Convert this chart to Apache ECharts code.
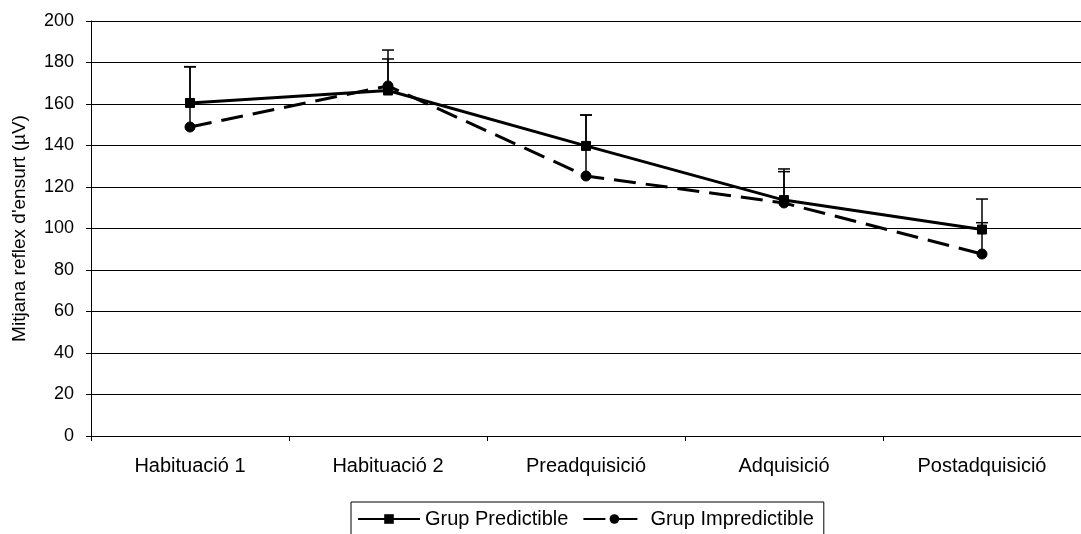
<!DOCTYPE html>
<html>
<head>
<meta charset="utf-8">
<script src="https://cdn.jsdelivr.net/npm/echarts@6/dist/echarts.min.js"></script>
<style>
  html, body { margin: 0; padding: 0; background: #fff; }
  #chart { width: 1081px; height: 534px; }
</style>
</head>
<body>
<div id="chart"></div>
<script>
// Mean startle reflex amplitude per phase, two groups
const categories = ['Habituació 1', 'Habituació 2', 'Preadquisició', 'Adquisició', 'Postadquisició'];
const predictible = [160.5, 166.5, 139.8, 113.7, 99.5];
const impredictible = [148.9, 168.7, 125.3, 112.3, 87.7];
// Upper error (µV above the mean)
const predictibleErr = [17.5, 19.5, 14.9, 15.0, 14.7];
const impredictibleErr = [29.0, 13.0, 29.4, 15.1, 15.1];
const yTicks = [0, 20, 40, 60, 80, 100, 120, 140, 160, 180, 200];

const FONT = 'Liberation Sans, Arial, sans-serif';

function errData(vals, errs) {
  return vals.map((v, i) => [i, v, v + errs[i]]);
}

function renderErr(params, api) {
  const x = api.value(0);
  const lo = api.coord([x, api.value(1)]);
  const hi = api.coord([x, api.value(2)]);
  const half = 6;
  const style = { stroke: '#000', lineWidth: 1.5, fill: null };
  return {
    type: 'group',
    children: [
      { type: 'line', shape: { x1: lo[0], y1: lo[1], x2: hi[0], y2: hi[1] }, style: style },
      { type: 'line', shape: { x1: hi[0] - half, y1: hi[1], x2: hi[0] + half, y2: hi[1] }, style: style }
    ]
  };
}

const chart = echarts.init(document.getElementById('chart'), null, { renderer: 'canvas' });
chart.setOption({
  animation: false,
  backgroundColor: '#fff',
  textStyle: { fontFamily: FONT },
  grid: { left: 91, top: 21, width: 997, height: 415, containLabel: false },
  legend: {
    left: 351,
    top: 502,
    orient: 'horizontal',
    data: ['Grup Predictible', 'Grup Impredictible'],
    itemWidth: 62,
    itemHeight: 12,
    itemGap: 14,
    padding: [7, 10, 10, 6],
    borderColor: '#000',
    borderWidth: 1,
    textStyle: { fontFamily: FONT, fontSize: 20, color: '#000', padding: [0, 0, 0, 0] }
  },
  xAxis: {
    type: 'category',
    data: categories,
    boundaryGap: true,
    axisLine: { lineStyle: { color: '#000', width: 1 } },
    axisTick: { show: true, length: 5, inside: false, alignWithLabel: false, lineStyle: { color: '#000' } },
    axisLabel: { color: '#000', fontFamily: FONT, fontSize: 20, margin: 20, interval: 0 },
    splitLine: { show: false }
  },
  yAxis: {
    type: 'value',
    min: yTicks[0],
    max: yTicks[yTicks.length - 1],
    interval: yTicks[1] - yTicks[0],
    name: "Mitjana reflex d'ensurt (µV)",
    nameLocation: 'middle',
    nameRotate: 90,
    nameGap: 62,
    nameTextStyle: { color: '#000', fontFamily: FONT, fontSize: 19 },
    axisLine: { show: true, lineStyle: { color: '#000', width: 1 } },
    axisTick: { show: true, length: 5, lineStyle: { color: '#000' } },
    axisLabel: { color: '#000', fontFamily: FONT, fontSize: 18, margin: 17 },
    splitLine: { show: true, lineStyle: { color: '#000', width: 1 } }
  },
  series: [
    {
      name: 'errPred',
      type: 'custom',
      renderItem: renderErr,
      data: errData(predictible, predictibleErr),
      encode: { x: 0, y: [1, 2] },
      z: 1,
      silent: true
    },
    {
      name: 'errImpred',
      type: 'custom',
      renderItem: renderErr,
      data: errData(impredictible, impredictibleErr),
      encode: { x: 0, y: [1, 2] },
      z: 1,
      silent: true
    },
    {
      name: 'Grup Predictible',
      type: 'line',
      data: predictible,
      symbol: 'rect',
      symbolSize: 9,
      lineStyle: { color: '#000', width: 3, type: 'solid' },
      itemStyle: { color: '#000', borderColor: '#000' },
      z: 3
    },
    {
      name: 'Grup Impredictible',
      type: 'line',
      data: impredictible,
      symbol: 'circle',
      symbolSize: 10,
      lineStyle: { color: '#000', width: 3, type: [22, 10] },
      itemStyle: { color: '#000', borderColor: '#000' },
      z: 2
    }
  ]
});
</script>
</body>
</html>
